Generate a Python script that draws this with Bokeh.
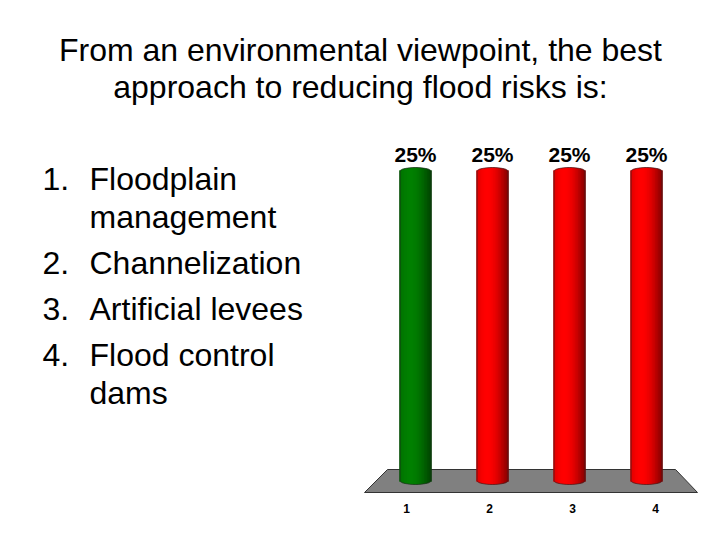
import math
from bokeh.plotting import figure
from bokeh.models import Range1d, ColumnDataSource
from bokeh.core.properties import value
from bokeh.embed import file_html
from bokeh.resources import INLINE

# ---------------- data ----------------
title_lines = ["From an environmental viewpoint, the best",
               "approach to reducing flood risks is:"]
option_numbers = ["1.", "2.", "3.", "4."]
option_texts = [["Floodplain", "management"],
                ["Channelization"],
                ["Artificial levees"],
                ["Flood control", "dams"]]
categories = ["1", "2", "3", "4"]
percents = [25, 25, 25, 25]
bar_rgb = [(0, 128, 0), (255, 0, 0), (255, 0, 0), (255, 0, 0)]

# ---------------- layout / scale helpers ----------------
W, H = 704, 524
OFF = 0
PX_PER_X = 77.0      # pixels per category step
X_REF0 = 415.0       # page pixel of category 1 centre
PX_PER_Y = 12.36     # pixels per percent
Y_REF0 = 480.0       # page pixel of 0 %

x_start = 1 - (X_REF0 - OFF) / PX_PER_X
x_end = x_start + W / PX_PER_X
y_start = -(OFF + H - Y_REF0) / PX_PER_Y
y_end = y_start + H / PX_PER_Y


def rx(px):
    return x_start + (px - OFF) / PX_PER_X


def ry(py):
    return y_start + (OFF + H - py) / PX_PER_Y


def ry_text(py, size):
    # place the visible baseline of a text of given pixel size at page y
    return ry(py - 0.34 * size)


FONT = value("Liberation Sans")

p = figure(width=W, height=H, x_range=Range1d(x_start, x_end),
           y_range=Range1d(y_start, y_end), toolbar_location=None,
           output_backend="svg", min_border=0,
           x_axis_location=None, y_axis_location=None)
p.outline_line_color = None
p.xgrid.visible = False
p.ygrid.visible = False
p.background_fill_color = "white"
p.border_fill_color = "white"

# ---------------- title ----------------
for i, line in enumerate(title_lines):
    p.text(x=[rx(360)], y=[ry_text(60 + 37 * i, 32)], text=[line],
           text_font=FONT, text_font_size="32px", text_align="center",
           text_baseline="alphabetic", text_color="black")

# ---------------- option list ----------------
line_y = 189
for num, lines in zip(option_numbers, option_texts):
    p.text(x=[rx(42)], y=[ry_text(line_y, 32)], text=[num], text_font=FONT,
           text_font_size="32px", text_align="left",
           text_baseline="alphabetic", text_color="black")
    for j, t in enumerate(lines):
        p.text(x=[rx(89)], y=[ry_text(line_y, 32)], text=[t], text_font=FONT,
               text_font_size="32px", text_align="left",
               text_baseline="alphabetic", text_color="black")
        if j < len(lines) - 1:
            line_y += 38
    line_y += 46 if len(lines) > 1 else 46

# ---------------- floor ----------------
p.patch(x=[rx(387), rx(675), rx(697), rx(364)],
        y=[ry(469), ry(469), ry(492), ry(492)],
        fill_color="#808080", line_color="#333333", line_width=1)

# ---------------- cylinders ----------------
bar_x = [i + 1 for i in range(len(categories))]
half_w = 15.5 / PX_PER_X
cap_h = 4.0 / PX_PER_Y
N = 20


def shade(u):
    return 0.55 + 0.45 * math.cos(math.pi / 2 * (u + 0.3) / 1.3)


sx, sw, st, sb, sc = [], [], [], [], []
for xc, v, rgb in zip(bar_x, percents, bar_rgb):
    for k in range(N):
        u = -1 + (2 * k + 1) / N
        e = cap_h * math.sqrt(max(0.0, 1 - u * u))
        f = shade(u)
        sx.append(xc + u * half_w)
        sw.append(2 * half_w / N * 2.0)
        st.append(v + e)
        sb.append(-e)
        sc.append("#%02x%02x%02x" % tuple(int(round(c * f)) for c in rgb))
p.vbar(x="x", width="w", top="t", bottom="b", color="c",
       source=ColumnDataSource(dict(x=sx, w=sw, t=st, b=sb, c=sc)),
       line_color=None)

# outlines
oxs, oys = [], []
M = 30
for xc, v in zip(bar_x, percents):
    xs, ys = [], []
    for k in range(M + 1):  # top arc, left to right
        a = math.pi - math.pi * k / M
        xs.append(xc + half_w * math.cos(a))
        ys.append(v + cap_h * math.sin(a))
    for k in range(M + 1):  # bottom arc, right to left
        a = -math.pi * k / M
        xs.append(xc + half_w * math.cos(a))
        ys.append(cap_h * math.sin(a))
    oxs.append(xs)
    oys.append(ys)
p.patches(xs=oxs, ys=oys, fill_color=None, line_color="#222222",
          line_alpha=0.6, line_width=1)

# percent labels
p.text(x=bar_x,
       y=[ry_text(Y_REF0 - (v * PX_PER_Y + 10), 21) for v in percents],
       text=["%d%%" % v for v in percents], text_font=FONT,
       text_font_size="21px", text_font_style="bold", text_align="center",
       text_baseline="alphabetic", text_color="black")

# category labels (perspective-projected onto the floor front)
cx = rx(530.5)
p.text(x=[cx + 1.078 * (b - cx) for b in bar_x],
       y=[ry_text(512, 12)] * len(bar_x),
       text=categories, text_font=FONT, text_font_size="12px",
       text_font_style="bold", text_align="center",
       text_baseline="alphabetic", text_color="black")

open("out.html", "w").write(file_html(p, INLINE))
